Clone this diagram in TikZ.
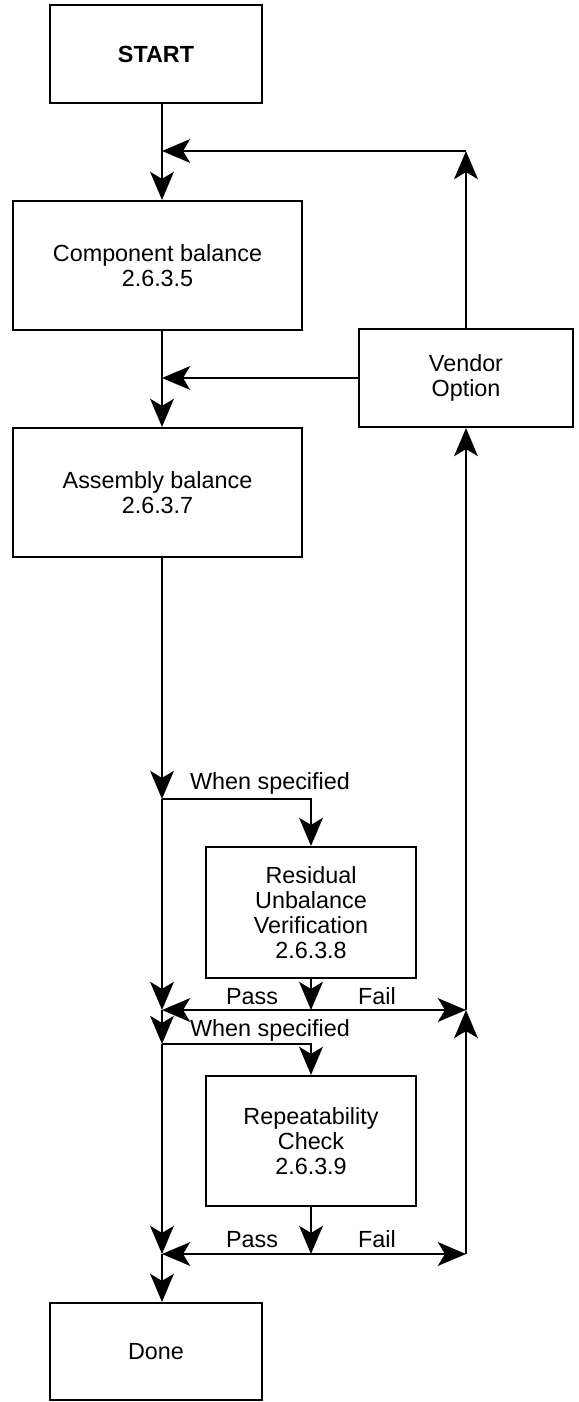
\documentclass[tikz,border=0pt]{standalone}
\usepackage{fontspec}
\setmainfont{Liberation Sans}
\usepackage{tikz}
\usetikzlibrary{positioning, arrows.meta}

\begin{document}
\begin{tikzpicture}[x=0.02cm,y=-0.02cm]
	\tikzstyle{box}=[draw=black,line width=1.2pt,align=center,font=\fontsize{13.3}{14.2}\selectfont]
	\tikzstyle{lbl}=[inner sep=0pt,font=\fontsize{13.3}{14.2}\selectfont]
	\tikzstyle{arr}=[line width=1.2pt,-{Stealth[length=16pt,width=13.5pt,inset=4pt]}]
	\useasboundingbox (0,0) rectangle (578,1402);
	\node[box,minimum width=4.24cm,minimum height=1.96cm](start) at (156,54) {\bfseries START};
	\node[box,minimum width=5.78cm,minimum height=2.58cm](comp) at (157.5,265.5) {Component balance\\2.6.3.5};
	\node[box,minimum width=4.28cm,minimum height=1.96cm](vendor) at (466,378) {Vendor\\Option};
	\node[box,minimum width=5.78cm,minimum height=2.58cm](asm) at (157.5,492.5) {Assembly balance\\2.6.3.7};
	\node[box,minimum width=4.2cm,minimum height=2.62cm](res) at (311,912.5) {Residual\\Unbalance\\Verification\\2.6.3.8};
	\node[box,minimum width=4.2cm,minimum height=2.6cm](rep) at (311,1141) {Repeatability\\Check\\2.6.3.9};
	\node[box,minimum width=4.24cm,minimum height=1.94cm](done) at (156,1351.5) {Done};
	% junctions
	\coordinate (j1) at (162,151);
	\coordinate (c1) at (466,151);
	\coordinate (j2) at (162,378);
	\coordinate (j3) at (162,799);
	\coordinate (b1) at (311,799);
	\coordinate (j4) at (162,1010);
	\coordinate (m1) at (311,1010);
	\coordinate (r1) at (466,1010);
	\coordinate (j5) at (162,1044);
	\coordinate (b2) at (311,1044);
	\coordinate (j6) at (162,1254);
	\coordinate (m2) at (311,1254);
	\coordinate (r2) at (466,1254);
	% labels
	\node[lbl,anchor=base](ws1) at (270,789) {When specified};
	\node[lbl,anchor=base](ws2) at (270,1036) {When specified};
	\node[lbl,anchor=base](pass1) at (252,1004) {Pass};
	\node[lbl,anchor=base](fail1) at (377,1004) {Fail};
	\node[lbl,anchor=base](pass2) at (252,1247) {Pass};
	\node[lbl,anchor=base](fail2) at (377,1247) {Fail};
	% connectors
	\draw[arr](start.south -| j1) -- (comp.north -| j1);
	\draw[arr](vendor.north) -- (c1);
	\draw[arr](c1) -- (j1);
	\draw[arr](comp.south -| j1) -- (asm.north -| j1);
	\draw[arr](vendor.west) -- (j2);
	\draw[arr](asm.south -| j1) -- (j3);
	\draw[arr](j3) -- (b1) -- (res.north);
	\draw[arr](j3) -- (j4);
	\draw[arr](res.south) -- (m1);
	\draw[arr](m1) -- (j4);
	\draw[arr](m1) -- (r1);
	\draw[arr](r1) -- (vendor.south);
	\draw[arr](j4) -- (j5);
	\draw[arr](j5) -- (b2) -- (rep.north);
	\draw[arr](j5) -- (j6);
	\draw[arr](rep.south) -- (m2);
	\draw[arr](m2) -- (j6);
	\draw[arr](m2) -- (r2);
	\draw[arr](r2) -- (r1);
	\draw[arr](j6) -- (done.north -| j6);
\end{tikzpicture}
\end{document}
